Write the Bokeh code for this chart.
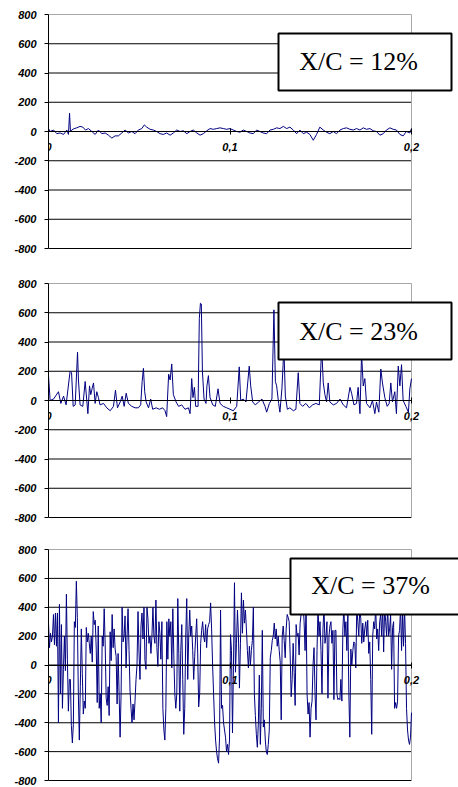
from bokeh.plotting import figure
from bokeh.models import Range1d, FixedTicker, LinearAxis
from bokeh.layouts import column
from bokeh.embed import file_html
from bokeh.resources import INLINE
from bokeh.core.properties import value

# ---------------------------------------------------------------------------
# Pressure signal at three chord positions, t in seconds (0 .. 0.2)
# ---------------------------------------------------------------------------
T_12 = [0.0000, 0.0009, 0.0028, 0.0046, 0.0064, 0.0083, 0.0101, 0.0110, 0.0116, 0.0121,
        0.0128, 0.0141, 0.0156, 0.0174, 0.0189, 0.0204, 0.0220, 0.0239, 0.0257, 0.0275,
        0.0294, 0.0312, 0.0330, 0.0349, 0.0367, 0.0385, 0.0404, 0.0422, 0.0440, 0.0459,
        0.0477, 0.0495, 0.0514, 0.0528, 0.0541, 0.0560,
        0.0578, 0.0596, 0.0615, 0.0633, 0.0651, 0.0670, 0.0688, 0.0706, 0.0725, 0.0743,
        0.0762, 0.0780, 0.0798, 0.0817, 0.0835, 0.0853, 0.0872, 0.0890, 0.0908, 0.0927,
        0.0945, 0.0963, 0.0982, 0.1000, 0.1018, 0.1037, 0.1055, 0.1073, 0.1092, 0.1110,
        0.1128, 0.1147, 0.1165, 0.1183, 0.1202, 0.1220, 0.1239, 0.1257, 0.1275, 0.1294,
        0.1312, 0.1330, 0.1349, 0.1367, 0.1385, 0.1404, 0.1422, 0.1440, 0.1459, 0.1477,
        0.1495, 0.1514, 0.1532, 0.1550, 0.1569, 0.1587, 0.1606, 0.1624, 0.1642, 0.1661,
        0.1679, 0.1697, 0.1716, 0.1734, 0.1752, 0.1771, 0.1789, 0.1807, 0.1826, 0.1844,
        0.1862, 0.1881, 0.1899, 0.1917, 0.1936, 0.1954, 0.1972, 0.1991, 0.2000]
P_12 = [20, 0, 10, -15, -10, -20, 10, -20, 125, 0,
        10, 20, 25, 35, 30, 10, 20, 0, -20, 10,
        -15, -10, -25, -45, -30, -30, -10, 10, -10, 0,
        -15, 10, 20, 45, 30, 15,
        10, 0, -15, -20, -10, -25, -10, 10, 0, 5,
        -15, 0, 10, -10, -25, -15, 5, 20, 15, 20,
        25, 20, 15, 20, 10, 0, -5, 10, 0, -10,
        -15, 10, 0, -10, -15, 10, 15, 25, 20, 35,
        20, 30, 10, -15, 10, -15, -5, -20, -60, -20,
        30, 10, -5, -15, 0, -15, 10, 20, 25, 15,
        10, 20, 10, 25, 15, 20, 5, 0, -25, -15,
        10, 25, 15, 10, -20, -30, 0, -10, 20]

T_23 = [0.0000, 0.0009, 0.0028, 0.0055, 0.0068, 0.0083, 0.0097, 0.0119, 0.0127, 0.0136,
        0.0147, 0.0160, 0.0165, 0.0174, 0.0189, 0.0202, 0.0211, 0.0217, 0.0226, 0.0233,
        0.0240, 0.0248, 0.0257, 0.0266, 0.0275, 0.0284, 0.0303, 0.0321, 0.0340, 0.0358,
        0.0369, 0.0380, 0.0395, 0.0406, 0.0417, 0.0428, 0.0440, 0.0459, 0.0477, 0.0495,
        0.0508, 0.0516, 0.0523, 0.0530, 0.0538, 0.0551, 0.0563, 0.0574, 0.0593, 0.0611,
        0.0629, 0.0642, 0.0651, 0.0662, 0.0670, 0.0679, 0.0688, 0.0703, 0.0717, 0.0734,
        0.0752, 0.0771, 0.0780, 0.0789, 0.0796, 0.0804, 0.0811, 0.0824, 0.0831, 0.0837,
        0.0842, 0.0848, 0.0857, 0.0868, 0.0873, 0.0881, 0.0890, 0.0905, 0.0919, 0.0934,
        0.0945, 0.0963, 0.0982, 0.1000, 0.1018, 0.1037, 0.1051, 0.1059, 0.1073, 0.1088,
        0.1106, 0.1114, 0.1125, 0.1139, 0.1158, 0.1176, 0.1193, 0.1202, 0.1217, 0.1231,
        0.1242, 0.1250, 0.1257, 0.1268, 0.1275, 0.1286, 0.1297, 0.1305, 0.1316, 0.1330,
        0.1349, 0.1363, 0.1376, 0.1385, 0.1400, 0.1418, 0.1437, 0.1455, 0.1473, 0.1492,
        0.1505, 0.1514, 0.1523, 0.1532, 0.1541, 0.1550, 0.1569, 0.1587, 0.1606, 0.1624,
        0.1642, 0.1661, 0.1670, 0.1683, 0.1697, 0.1706, 0.1716, 0.1725, 0.1734, 0.1743,
        0.1752, 0.1771, 0.1785, 0.1798, 0.1807, 0.1820, 0.1831, 0.1840, 0.1853, 0.1866,
        0.1877, 0.1886, 0.1895, 0.1908, 0.1917, 0.1927, 0.1936, 0.1945, 0.1954, 0.1969,
        0.1983, 0.1991, 0.2000]
P_23 = [170, 0, 10, 60, -20, 30, -30, 200, 190, -40,
        -30, 330, 140, -30, -40, 130, 0, -90, 100, 40,
        80, 120, -20, 60, 20, -30, -20, -50, -70, -40,
        70, -50, -10, 30, -40, 50, -20, -40, -50, -50,
        -30, 130, 220, 60, -10, -50, 10, -60, -50, -60,
        -50, -70, -110, 180, 140, 250, 40, -10, -40, -30,
        -60, -50, -90, 150, 20, 90, -40, -40, 560, 665,
        660, 200, 10, -20, 100, 170, 20, -30, -40, 80,
        -20, -40, -50, -60, -70, -40, 230, 0, 10, -10,
        235, 100, -10, -30, -10, 10, -40, -80, -20, 10,
        620, 130, 100, -20, -80, 80, 360, 30, -60, -50,
        -70, -60, 190, -20, -40, -20, -50, -30, -20, -30,
        370, 120, 40, -10, 120, -10, -30, -20, 10, -30,
        -50, 90, 50, -30, -20, 90, -90, 320, 100, 150,
        -20, -50, 0, -90, -10, -80, 215, 120, 20, -40,
        -20, 120, -10, 60, -90, 235, 100, 245, 0, -40,
        -80, 80, 150]

P_37 = [290, 120, 220, 160, 200, 350, 140, 360, 130, 360, -400, 420, -200, 280, -300, -30,
        200, -40, 490, 40, -320, -100, -100, -420, -540, -410, 300, 260, 580, 330, -200, -520,
        -150, 250, -60, -340, -250, -300, 260, 160, 220, 150, 80, 200, 20, 370, 280, 310,
        110, -260, 270, -300, -200, -400, 200, 130, 390, 140, -230, -280, -150, -350, 230, 30,
        350, 120, 250, 110, 60, -270, 80, -200, -500, -200, 400, 160, 200, 340, -20, 200,
        390, 100, -180, -300, -400, -270, -380, -250, -100, 0, 370, 90, -100, 270, 360, 180,
        400, 30, -30, 400, 320, 150, 200, 80, 200, 400, 200, 150, 450, 120, -10, 300,
        220, 40, 300, -300, -450, -520, -300, 300, 40, 320, 200, 300, -20, 390, 70, -200,
        -300, -200, 460, 80, -320, 100, 280, -100, -480, -300, 200, 460, -100, 200, 380, 200,
        270, 100, -100, 60, 200, 320, 90, -290, -200, 150, 240, 300, 200, 160, 280, 120,
        250, 280, 300, 430, 250, 0, -200, -400, -520, -600, -650, -680, -500, 380, -300, -280,
        -400, -450, -500, -600, -550, -620, -520, 210, 100, -470, 0, 570, -50, 150, 380, 200,
        -160, 150, 500, 220, 450, 290, 380, 250, 100, -20, 130, 0, 100, 170, 400, -200,
        -350, -480, -570, -400, -70, -550, -300, 240, -430, -380, -520, -600, -620, -550, -450, 50,
        100, 170, 200, 290, 180, 250, 130, 200, 100, 20, -380, 200, 270, 170, 50, 250,
        350, 330, 300, 70, -220, -100, 150, -50, -280, 280, 200, 220, 70, 290, 350, 380,
        420, 300, 100, 420, -200, -340, -260, -500, -300, -250, 0, 120, -200, -380, 100, 400,
        200, 300, 100, -200, 250, 400, 150, 200, 300, -230, 200, 270, 300, 150, 240, -240,
        240, 240, -200, -240, -230, -240, -100, -250, 250, 400, 200, 300, 100, 350, -200, -500,
        110, 0, 100, 160, 150, -20, 400, 300, 200, 400, 320, 150, 290, 160, 250, 300,
        200, 310, 80, 160, -100, -480, 200, 300, 250, 400, 180, 250, 100, 300, 350, 200,
        400, 90, 400, 300, 200, 400, 200, 250, 350, -30, 260, 300, -300, -260, -300, -250,
        200, 240, 400, 100, 360, 130, 400, 150, -300, -450, -520, -550, -500, -330]
# evenly sampled record spanning 0 .. 0.2 s
T_37 = [0.2 * i / (len(P_37) - 1) for i in range(len(P_37))]

LABELS = ["X/C = 12%", "X/C = 23%", "X/C = 37%"]
Y_TICKS = [-800, -600, -400, -200, 0, 200, 400, 600, 800]
GRID_Y = [-800, -600, -400, -200, 0, 200, 400, 600]
X_TICKS = [0, 0.1, 0.2]
X_TICK_LABELS = ["0", "0,1", "0,2"]

# ---------------------------------------------------------------------------
# layout (pixels)
# ---------------------------------------------------------------------------
W = 458
LEFT = 48            # left edge of the plotting area
X_SPAN_PX = 363      # width covered by 0 .. 0.2
PAD = 3
X_END = 0.2 * (W - LEFT) / X_SPAN_PX

LINE_COLOR = "#000080"
BORDER_GRAY = "#a8a8a8"
TICK_FONT = "Liberation Sans"


def make_panel(t, v, label, fig_h, top800, plot_px, box, text_xy):
    top = top800 - PAD
    frame_h = plot_px + 2 * PAD
    y_half = 800.0 * frame_h / plot_px

    def sx(px):
        return (px - LEFT) * 0.2 / X_SPAN_PX

    def sy(py):
        return 800.0 - (py - top800) * 1600.0 / plot_px

    p = figure(width=W, height=fig_h, output_backend="svg", toolbar_location=None,
               x_range=Range1d(0, X_END), y_range=Range1d(-y_half, y_half),
               x_axis_location=None, y_axis_location=None,
               min_border_left=LEFT, min_border_right=0,
               min_border_top=top, min_border_bottom=fig_h - top - frame_h)
    p.outline_line_color = None
    p.background_fill_color = "white"
    p.border_fill_color = "white"
    p.grid.visible = False

    # horizontal grid lines and frame borders, limited to 0 .. 0.2
    p.segment(x0=[0] * len(GRID_Y), x1=[0.2] * len(GRID_Y), y0=GRID_Y, y1=GRID_Y,
              line_color="black", line_width=1)
    p.segment(x0=[0, 0.2], x1=[0.2, 0.2], y0=[800, -800], y1=[800, 800],
              line_color=BORDER_GRAY, line_width=1)

    p.line(t, v, line_color=LINE_COLOR, line_width=1)

    # caption box
    l, r, tp, b = box
    p.quad(left=[sx(l)], right=[sx(r)], top=[sy(tp)], bottom=[sy(b)],
           fill_color="white", line_color="black", line_width=2)
    p.text(x=[sx(text_xy[0])], y=[sy(text_xy[1])], text=[label],
           text_font=value("Liberation Serif"), text_font_size="26px",
           text_align="center", text_baseline="middle", text_color="black")

    yaxis = LinearAxis(ticker=FixedTicker(ticks=Y_TICKS), bounds=(-800, 800))
    yaxis.major_label_overrides = {tk: str(tk) for tk in Y_TICKS}
    yaxis.major_tick_in = 0
    yaxis.major_tick_out = 4
    yaxis.major_label_standoff = 8
    p.add_layout(yaxis, "left")

    xaxis = LinearAxis(ticker=FixedTicker(ticks=X_TICKS), bounds=(0, 0.2), fixed_location=0)
    xaxis.major_label_overrides = dict(zip(X_TICKS, X_TICK_LABELS))
    xaxis.major_tick_in = 3
    xaxis.major_tick_out = 3
    xaxis.major_label_standoff = 8
    p.add_layout(xaxis, "below")

    for ax in (xaxis, yaxis):
        ax.axis_line_color = "black"
        ax.axis_line_width = 1
        ax.major_tick_line_color = "black"
        ax.minor_tick_line_color = None
        ax.major_label_text_font = TICK_FONT
        ax.major_label_text_font_style = "bold italic"
        ax.major_label_text_font_size = "11px"
        ax.major_label_text_color = "black"
    return p


p1 = make_panel(T_12, P_12, LABELS[0], 262, 14, 234, (278, 451, 33, 90), (358, 61))
p2 = make_panel(T_23, P_23, LABELS[1], 262, 21, 234, (278, 451, 40, 97), (358, 69))
p3 = make_panel(T_37, P_37, LABELS[2], 263, 25, 231, (290, 470, 34, 90), (370, 61))

layout = column(p1, p2, p3, spacing=0)
open("out.html", "w").write(file_html(layout, INLINE))
